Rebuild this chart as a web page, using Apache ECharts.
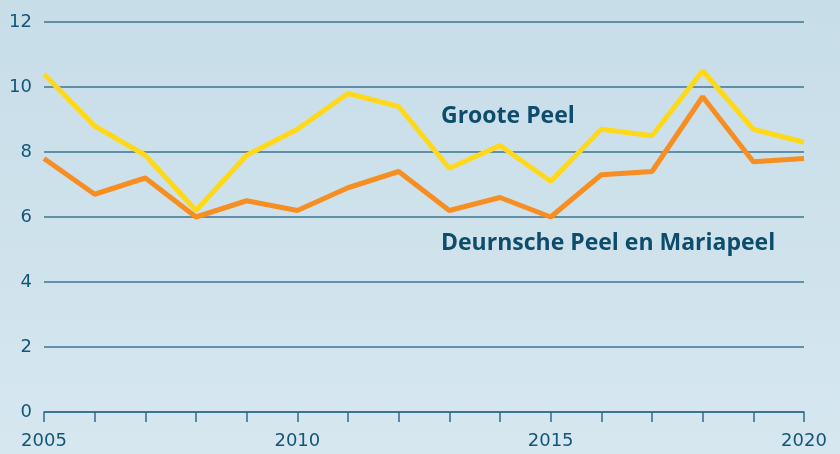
<!DOCTYPE html>
<html>
<head>
<meta charset="utf-8">
<script src="https://cdn.jsdelivr.net/npm/echarts@6/dist/echarts.min.js"></script>
<style>html,body{margin:0;padding:0;}#c{width:840px;height:454px;}</style>
</head>
<body>
<div id="c"></div>
<script>
const years = [2005,2006,2007,2008,2009,2010,2011,2012,2013,2014,2015,2016,2017,2018,2019,2020];
const grooteNames = 'Groote Peel';
const deurnscheName = 'Deurnsche Peel en Mariapeel';
const groote = [10.4,8.8,7.9,6.2,7.9,8.7,9.8,9.4,7.5,8.2,7.1,8.7,8.5,10.5,8.7,8.3];
const deurnsche = [7.8,6.7,7.2,6.0,6.5,6.2,6.9,7.4,6.2,6.6,6.0,7.3,7.4,9.7,7.7,7.8];
const yTicks = [0,2,4,6,8,10,12];

const chart = echarts.init(document.getElementById('c'));
const txt = '#145677';
chart.setOption({
  backgroundColor: {type:'linear',x:0,y:0,x2:0,y2:1,colorStops:[{offset:0,color:'#c7dde8'},{offset:1,color:'#d6e7f0'}]},
  animation:false,
  grid:{left:44,right:36,top:22,bottom:42},
  xAxis:{type:'value',min:2005,max:2020,interval:1,
    axisLine:{lineStyle:{color:'#2f6c8c',width:1.5}},
    axisTick:{show:true,length:10,inside:false,lineStyle:{color:'#2f6c8c',width:1.5}},
    splitLine:{show:false},
    axisLabel:{color:txt,fontSize:18,fontFamily:'DejaVu Sans',margin:20,
      formatter:v=> (v%5===0?String(v):'')}},
  yAxis:{type:'value',min:yTicks[0],max:yTicks[yTicks.length-1],interval:2,
    axisLine:{show:false},axisTick:{show:false},
    splitLine:{lineStyle:{color:'#3d7593',width:1.5}},
    axisLabel:{color:txt,fontSize:18,fontFamily:'DejaVu Sans',margin:12}},
  series:[
    {name:grooteNames,type:'line',data:years.map((y,i)=>[y,groote[i]]),symbol:'none',
     lineStyle:{color:'#ffd919',width:5},z:3},
    {name:deurnscheName,type:'line',data:years.map((y,i)=>[y,deurnsche[i]]),symbol:'none',
     lineStyle:{color:'#f68e22',width:5},z:4}
  ],
  graphic:[
    {type:'text',x:441,y:116,style:{text:grooteNames,fill:'#0e4c6c',font:'bold 23px "Open Sans"',verticalAlign:'middle'}},
    {type:'text',x:441,y:243,style:{text:deurnscheName,fill:'#0e4c6c',font:'bold 23px "Open Sans"',verticalAlign:'middle'}}
  ]
});
</script>
</body>
</html>
